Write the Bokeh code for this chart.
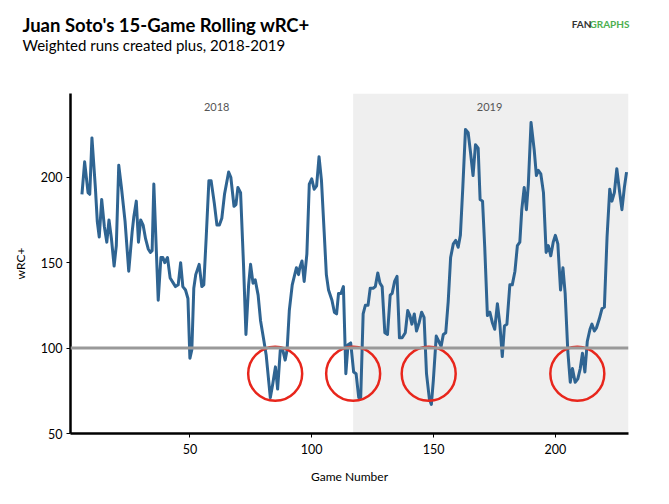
from bokeh.plotting import figure
from bokeh.models import Label, BoxAnnotation, Span, FixedTicker, Range1d
from bokeh.layouts import column, row
from bokeh.core.properties import value
from bokeh.embed import file_html
from bokeh.resources import INLINE

# ---------------- data ----------------
games = [5.7, 6.8, 8.2, 8.9, 9.8, 11.2, 12.0, 12.8, 13.8, 14.9, 15.9, 16.8, 17.8, 18.9, 19.8,
         20.8, 21.9, 23.4, 24.9, 26.3, 27.0, 28.0, 28.9, 29.8, 30.8, 31.8, 32.9, 33.8, 34.5,
         35.2, 36.2, 37.0, 38.1, 38.9, 39.7, 40.8, 41.9, 43.2, 44.1, 45.2, 46.2, 47.1, 48.2,
         49.2, 50.0, 50.8, 51.6, 52.4, 53.8, 54.9, 55.7, 56.7, 57.8, 58.7, 60.0, 61.1, 62.1,
         63.1, 64.2, 65.9, 66.8, 68.1, 68.9, 69.7, 70.8, 72.0, 73.0, 74.1, 74.9, 75.9, 76.8,
         78.0, 79.0, 80.4, 81.3, 83.0, 84.0, 85.1, 86.0, 87.1, 88.1, 89.1, 89.9, 90.8, 92.0,
         93.7, 94.6, 95.1, 96.0, 96.9, 98.0, 99.0, 100.0, 101.0, 102.0, 103.0, 104.0, 105.1,
         106.0, 106.9, 108.3, 109.3, 110.2, 111.0, 112.0, 113.0, 114.0, 114.9, 116.0, 117.2,
         118.2, 119.3, 120.1, 121.1, 122.0, 123.1, 124.0, 125.2, 126.1, 127.1, 128.0, 128.9,
         130.0, 131.1, 132.2, 133.0, 134.0, 135.0, 136.0, 137.1, 138.4, 139.4, 140.3, 141.1,
         142.1, 143.0, 144.1, 145.1, 146.1, 147.1, 148.3, 149.1, 149.9, 151.1, 152.1, 153.1,
         154.0, 155.0, 156.0, 157.0, 158.1, 159.1, 160.1, 161.0, 162.0, 163.1, 164.2, 165.2,
         166.2, 167.2, 168.3, 169.1, 170.1, 171.0, 172.1, 173.1, 174.1, 175.1, 176.2, 177.2,
         178.2, 179.1, 180.1, 181.3, 182.3, 183.4, 184.4, 185.4, 186.2, 187.2, 188.1, 188.9,
         190.0, 191.3, 192.2, 193.0, 194.0, 195.1, 196.2, 197.1, 198.1, 199.1, 200.0, 201.0,
         202.1, 203.1, 204.0, 205.1, 206.1, 207.0, 208.1, 209.2, 210.2, 211.1, 212.1, 213.1,
         214.2, 215.0, 216.0, 216.9, 218.0, 219.1, 220.1, 221.2, 222.3, 223.2, 224.2, 225.2,
         226.3, 227.3, 228.3, 229.2]
wrc_plus = [190, 209, 191, 190, 223, 194, 174, 165, 187, 171, 162, 175, 164, 148, 160,
            207, 194, 174, 145, 168, 177, 186, 162, 175, 172, 164, 158, 156, 157,
            196, 158, 128, 153, 153, 150, 153, 141, 138, 136, 137, 150, 136, 134,
            129, 94, 99, 135, 143, 149, 136, 137, 165, 198, 198, 185, 172, 172,
            176, 190, 203, 200, 183, 184, 194, 191, 149, 108, 137, 149, 138, 140,
            131, 116, 104, 96, 71, 79, 89, 76, 99, 99, 93, 99, 122, 137,
            147, 143, 147, 151, 139, 155, 196, 199, 193, 195, 212, 198, 168,
            143, 134, 128, 121, 120, 132, 132, 136, 85, 102, 103, 86,
            85, 71, 71, 120, 125, 125, 135, 135, 136, 144, 138, 136,
            109, 108, 131, 132, 139, 142, 106, 106, 109, 122, 119, 114,
            120, 110, 115, 121, 118, 85, 70, 67, 81, 107, 104, 101,
            108, 109, 127, 153, 161, 163, 159, 166, 194, 228, 226, 214,
            201, 219, 217, 187, 186, 159, 119, 121, 115, 111, 126, 114,
            95, 113, 114, 137, 137, 145, 160, 162, 181, 194, 181, 196,
            232, 216, 201, 204, 202, 191, 156, 160, 154, 162, 166, 161,
            134, 147, 132, 98, 80, 88, 80, 82, 88, 97, 86, 104,
            111, 114, 110, 112, 117, 123, 124, 165, 193, 186, 191, 205,
            192, 181, 194, 203]

season_2019_start = 117
league_average = 100
x_ticks = [50, 100, 150, 200]
y_ticks = [50, 100, 150, 200]
slump_games = [85, 117, 148, 209]
slump_values = [85, 85, 85, 85]
season_labels = ["2018", "2019"]
season_label_games = [61, 173]
season_label_value = 241

title_text = "Juan Soto's 15-Game Rolling wRC+"
subtitle_text = "Weighted runs created plus, 2018-2019"
logo_parts = ["FAN", "GRAPHS"]

FONT = "Lato"
W = 653
HEAD_H = 60

# ---------------- header (title, subtitle, logo) ----------------
head = figure(width=W, height=HEAD_H, output_backend="svg", toolbar_location=None,
              x_range=Range1d(0, W), y_range=Range1d(HEAD_H, 0),
              x_axis_location=None, y_axis_location=None,
              min_border=0, min_border_left=0, min_border_right=0,
              min_border_top=0, min_border_bottom=0)
head.grid.visible = False
head.outline_line_color = None
head.text(x=[22], y=[24], text=[title_text], text_font=value(FONT),
          text_font_size="18.5px", text_font_style="bold", text_color="black",
          text_baseline="alphabetic")
head.text(x=[22], y=[44], text=[subtitle_text], text_font=value(FONT),
          text_font_size="15px", text_color="black", text_baseline="alphabetic")
head.text(x=[629], y=[23], text=[logo_parts[1]], text_font=value(FONT),
          text_font_size="10px", text_font_style="bold", text_color="#4caf50",
          text_baseline="alphabetic", text_align="right")
head.text(x=[591], y=[23], text=[logo_parts[0]], text_font=value(FONT),
          text_font_size="10px", text_font_style="bold", text_color="#333333",
          text_baseline="alphabetic", text_align="right")

# ---------------- main chart ----------------
p = figure(width=W, height=488 - HEAD_H, output_backend="svg", toolbar_location=None,
           x_range=Range1d(1, 230), y_range=Range1d(50, 249),
           min_border_left=70, min_border_right=25, min_border_top=33, min_border_bottom=55,
           background_fill_color="white", border_fill_color="white")
p.outline_line_color = None
p.grid.visible = False

p.add_layout(BoxAnnotation(left=season_2019_start, right=230, fill_color="#efefef",
                           fill_alpha=1.0, line_color=None, level="underlay"))

p.add_layout(Span(location=league_average, dimension="width", line_color="#999999",
                  line_width=3))

p.line(games, wrc_plus, line_color="#2f6492", line_width=3, line_join="round")

p.scatter(slump_games, slump_values, size=54, marker="circle", fill_color=None,
          line_color="#e8261c", line_width=2.5)

for lab, g in zip(season_labels, season_label_games):
    p.add_layout(Label(x=g, y=season_label_value, text=lab, text_align="center",
                       text_baseline="middle", text_font=FONT, text_font_size="11px",
                       text_color="#555555"))

for ax in (p.xaxis[0], p.yaxis[0]):
    ax.axis_line_color = "black"
    ax.axis_line_width = 2.5
    ax.major_tick_line_color = "black"
    ax.major_tick_in = 0
    ax.major_tick_out = 4
    ax.minor_tick_line_color = None
    ax.major_label_text_font = FONT
    ax.major_label_text_font_size = "12.5px"
    ax.major_label_text_color = "black"
    ax.axis_label_text_font = FONT
    ax.axis_label_text_font_size = "12px"
    ax.axis_label_text_font_style = "normal"
    ax.axis_label_text_color = "black"

p.xaxis.ticker = FixedTicker(ticks=x_ticks)
p.yaxis.ticker = FixedTicker(ticks=y_ticks)
p.xaxis.axis_label = "Game Number"
p.yaxis.axis_label = "wRC+"
p.xaxis.axis_label_standoff = 12
p.yaxis.axis_label_standoff = 10
p.xaxis.major_label_standoff = 6
p.yaxis.major_label_standoff = 4

layout = column(row(head), p, spacing=0)
open("out.html", "w").write(file_html(layout, INLINE))
